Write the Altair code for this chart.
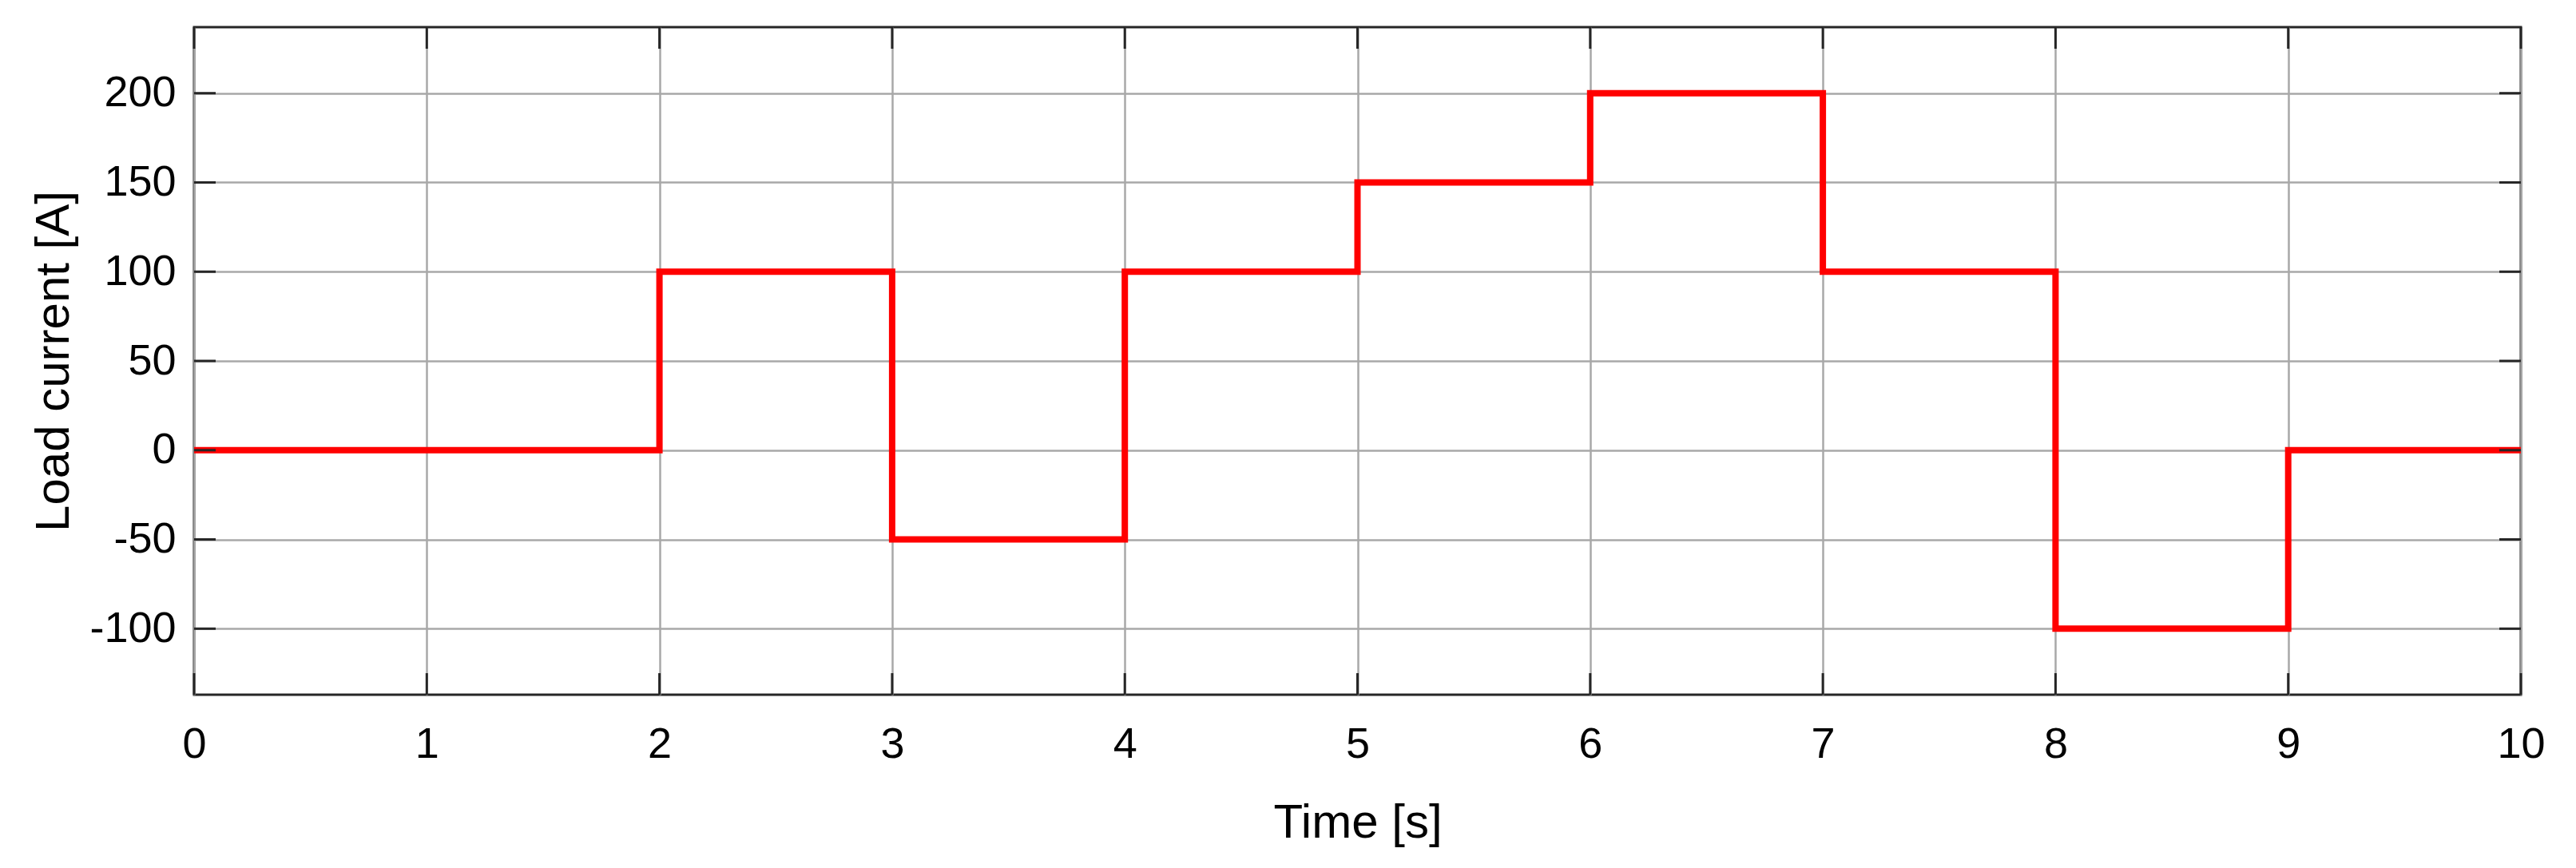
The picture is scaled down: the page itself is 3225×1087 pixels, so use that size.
import altair as alt
import pandas as pd

# Step data: value holds from each time until the next
time_s = [0, 2, 3, 4, 5, 6, 7, 8, 9, 10]
current_a = [0, 100, -50, 100, 150, 200, 100, -100, 0, 0]

x_ticks = [0, 1, 2, 3, 4, 5, 6, 7, 8, 9, 10]
y_ticks = [-100, -50, 0, 50, 100, 150, 200]

W, H = 2913, 836
TICK = 27
FONT = "Liberation Sans"

df = pd.DataFrame({"t": time_s, "i": current_a})
xt = pd.DataFrame({"t": x_ticks})
yt = pd.DataFrame({"i": y_ticks})

xscale = alt.Scale(domain=[0, 10], nice=False, zero=False)
yscale = alt.Scale(domain=[-137, 237], nice=False, zero=False)

line = alt.Chart(df).mark_line(
    interpolate="step-after", color="#ff0000", strokeWidth=8, clip=True
).encode(
    x=alt.X("t:Q", scale=xscale, axis=alt.Axis(
        values=x_ticks, title="Time [s]", grid=True, gridColor="#a8a8a8", gridWidth=2.5,
        ticks=False, tickSize=0, domain=False, labelFont=FONT, labelFontSize=54,
        labelColor="#000000", labelBaseline="alphabetic", labelPadding=78,
        labelExpr="format(datum.value, 'd')",
        titleFont=FONT, titleFontSize=60, titleFontWeight="normal", titleColor="#000000",
        titleBaseline="alphabetic", titleY=178, labelFlush=False)),
    y=alt.Y("i:Q", scale=yscale, axis=alt.Axis(
        values=y_ticks, title="Load current [A]", grid=True, gridColor="#a8a8a8", gridWidth=2.5,
        ticks=False, tickSize=0, domain=False, labelFont=FONT, labelFontSize=54,
        labelColor="#000000", labelPadding=23, labelBaseline="middle",
        labelExpr="replace(format(datum.value, 'd'), '\u2212', '-')",
        titleFont=FONT, titleFontSize=60, titleFontWeight="normal", titleColor="#000000",
        titleAngle=270, titleBaseline="alphabetic", titleAlign="center",
        titleX=-158, titleY=H / 2, labelFlush=False)),
)

tick_color = "#262626"
left_ticks = alt.Chart(yt).mark_rule(color=tick_color, strokeWidth=3).encode(
    y=alt.Y("i:Q", scale=yscale), x=alt.value(0), x2=alt.value(TICK))
right_ticks = alt.Chart(yt).mark_rule(color=tick_color, strokeWidth=3).encode(
    y=alt.Y("i:Q", scale=yscale), x=alt.value(W - TICK), x2=alt.value(W))
bottom_ticks = alt.Chart(xt).mark_rule(color=tick_color, strokeWidth=3).encode(
    x=alt.X("t:Q", scale=xscale), y=alt.value(H - TICK), y2=alt.value(H))
top_ticks = alt.Chart(xt).mark_rule(color=tick_color, strokeWidth=3).encode(
    x=alt.X("t:Q", scale=xscale), y=alt.value(0), y2=alt.value(TICK))

chart = alt.layer(line, left_ticks, right_ticks, bottom_ticks, top_ticks).properties(
    width=W, height=H,
    autosize=alt.AutoSizeParams(type="none"),
    padding={"left": 235, "top": 26, "right": 60, "bottom": 200},
    background="white",
).configure_view(
    stroke="#262626", strokeWidth=3
)

chart.save("out.html", embed_options={"renderer": "svg", "actions": False})
